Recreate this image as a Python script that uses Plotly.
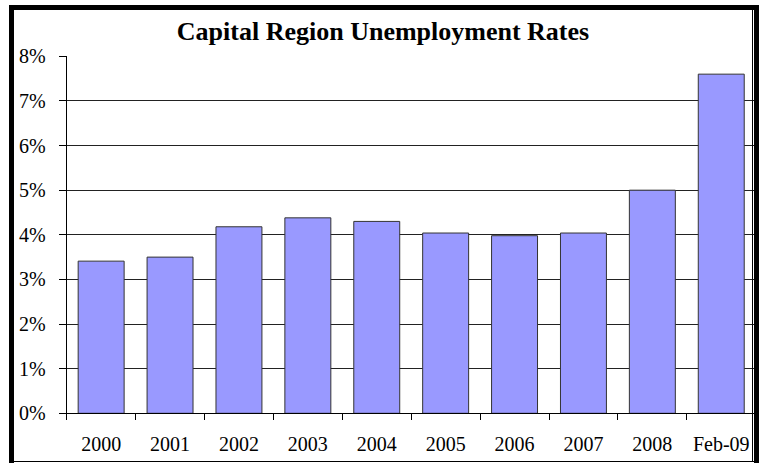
import plotly.graph_objects as go

# Unemployment rate by year (fraction)
categories = ["2000", "2001", "2002", "2003", "2004", "2005", "2006", "2007", "2008", "Feb-09"]
rates = [0.0341, 0.0350, 0.0418, 0.0438, 0.0430, 0.0404, 0.0398, 0.0404, 0.0500, 0.0760]
y_ticks = [0, 0.01, 0.02, 0.03, 0.04, 0.05, 0.06, 0.07, 0.08]
y_tick_text = ["0%", "1%", "2%", "3%", "4%", "5%", "6%", "7%", "8%"]

W, H = 759, 463
FONT = "Liberation Serif"


def px_x(v):
    return v / W


def px_y(v):
    return (H - v) / H


fig = go.Figure(
    go.Bar(
        x=categories,
        y=rates,
        marker=dict(color="#9999FF", line=dict(color="#333333", width=1)),
        width=0.667,
        hoverinfo="x+y",
    )
)


def hline(y, x0, x1, w):
    return dict(type="line", xref="paper", yref="paper",
                x0=px_x(x0), x1=px_x(x1), y0=px_y(y), y1=px_y(y),
                line=dict(color="black", width=w), layer="above")


def vline(x, y0, y1, w):
    return dict(type="line", xref="paper", yref="paper",
                x0=px_x(x), x1=px_x(x), y0=px_y(y0), y1=px_y(y1),
                line=dict(color="black", width=w), layer="above")


# heavy frame on left, top and right; thin rule at bottom and inner right edge
frame = [
    vline(11.5, 5, 463, 5),
    hline(7.5, 9, 759, 5),
    vline(756.5, 5, 463, 5),
    hline(461.5, 9, 759, 1),
    vline(752.5, 10, 461, 1),
]

fig.update_layout(
    template="none",
    width=W,
    height=H,
    margin=dict(l=0, r=0, t=0, b=0),
    paper_bgcolor="white",
    plot_bgcolor="white",
    showlegend=False,
    bargap=0.333,
    font=dict(family=FONT, color="black", size=20),
    title=dict(
        text="<b>Capital Region Unemployment Rates</b>",
        x=px_x(383), xanchor="center",
        y=px_y(31), yanchor="middle",
        font=dict(family=FONT, size=26, color="black"),
    ),
    xaxis=dict(
        domain=[px_x(66.7), px_x(755.7)],
        type="category",
        tickson="boundaries",
        ticks="outside",
        ticklen=6,
        tickcolor="black",
        showline=True,
        linecolor="black",
        linewidth=1,
        showgrid=False,
        automargin=False,
        ticklabelstandoff=13,
        tickfont=dict(family=FONT, size=20, color="black"),
    ),
    yaxis=dict(
        domain=[px_y(413.3), px_y(56.3)],
        range=[0, 0.08],
        tickvals=y_ticks,
        ticktext=y_tick_text,
        ticks="outside",
        ticklen=7,
        tickcolor="black",
        showline=True,
        linecolor="black",
        linewidth=1,
        showgrid=True,
        gridcolor="#222222",
        gridwidth=1,
        zeroline=False,
        automargin=False,
        ticklabelstandoff=9,
        tickfont=dict(family=FONT, size=20, color="black"),
    ),
    shapes=frame,
)

fig.write_html("out.html")
